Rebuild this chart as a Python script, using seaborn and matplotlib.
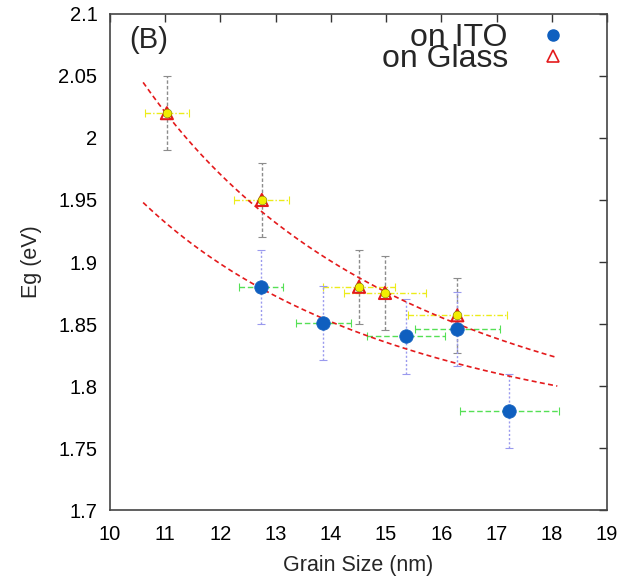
import numpy as np
import pandas as pd
import matplotlib
matplotlib.use("Agg")
import matplotlib.pyplot as plt
import seaborn as sns
from matplotlib.lines import Line2D

sns.set_theme(style="white")
plt.rcParams["font.family"] = ["Liberation Sans", "DejaVu Sans"]

# Films deposited on ITO
ito_size = [12.74, 13.86, 15.36, 16.29, 17.23]
ito_size_err = [0.40, 0.50, 0.70, 0.77, 0.90]
ito_eg = [1.880, 1.851, 1.840, 1.846, 1.780]
ito_eg_err = [0.030, 0.030, 0.030, 0.030, 0.030]

# Films deposited on glass
glass_size = [11.03, 12.75, 14.51, 14.98, 16.29]
glass_size_err = [0.40, 0.50, 0.65, 0.75, 0.90]
glass_eg = [2.020, 1.950, 1.880, 1.875, 1.857]
glass_eg_err = [0.030, 0.030, 0.030, 0.030, 0.030]

# Fitted confinement curves Eg = Eg0 + A / d^2
glass_fit_eg0, glass_fit_a = 1.707, 37.96
ito_fit_eg0, ito_fit_a = 1.7227, 25.31
fit_range = (10.6, 18.1)

xticks = list(range(10, 20))
yticks = [1.7, 1.75, 1.8, 1.85, 1.9, 1.95, 2.0, 2.05, 2.1]
ytick_labels = ["1.7", "1.75", "1.8", "1.85", "1.9", "1.95", "2", "2.05", "2.1"]

fig = plt.figure(figsize=(6.38, 5.83), dpi=100)
ax = fig.add_axes([0.1724, 0.1252, 0.779, 0.8508])

d = np.linspace(fit_range[0], fit_range[1], 200)
fits = pd.DataFrame({
    "d": np.concatenate([d, d]),
    "Eg": np.concatenate([glass_fit_eg0 + glass_fit_a / d**2,
                          ito_fit_eg0 + ito_fit_a / d**2]),
    "set": ["glass"] * len(d) + ["ito"] * len(d),
})
sns.lineplot(data=fits, x="d", y="Eg", units="set", estimator=None,
             color="#e41a1c", lw=1.2, ax=ax, zorder=3, legend=False)
for line in ax.get_lines():
    line.set_dashes([3, 2])

# error bars
eb = ax.errorbar(glass_size, glass_eg, yerr=glass_eg_err, fmt="none",
                 ecolor="#8c8c8c", elinewidth=1.0, capsize=3, capthick=0.8, zorder=2)
eb[2][0].set_linestyle((0, (2.5, 1.5)))
eb = ax.errorbar(glass_size, glass_eg, xerr=glass_size_err, fmt="none",
                 ecolor="#ecec1a", elinewidth=1.0, capsize=3, capthick=0.8, zorder=2)
eb[2][0].set_linestyle((0, (4, 1.5, 1, 1.5)))
eb = ax.errorbar(ito_size, ito_eg, yerr=ito_eg_err, fmt="none",
                 ecolor="#9a9aee", elinewidth=1.0, capsize=3, capthick=0.8, zorder=2)
eb[2][0].set_linestyle((0, (1.5, 1.5)))
eb = ax.errorbar(ito_size, ito_eg, xerr=ito_size_err, fmt="none",
                 ecolor="#55e055", elinewidth=1.0, capsize=3, capthick=0.8, zorder=2)
eb[2][0].set_linestyle((0, (4, 2)))

# points
sns.scatterplot(x=ito_size, y=ito_eg, ax=ax, marker="o", s=95,
                color="#0f5fbf", edgecolor="#0f5fbf", linewidth=0.5, zorder=4)
sns.scatterplot(x=glass_size, y=glass_eg, ax=ax, marker="^", s=75,
                facecolor="none", edgecolor="#e41a1c", linewidth=1.5, zorder=4)
sns.scatterplot(x=glass_size, y=glass_eg, ax=ax, marker="o", s=40,
                color="#f2ee00", edgecolor="#777700", linewidth=0.4, zorder=5)

ax.set_xlim(10, 19)
ax.set_ylim(1.7, 2.1)
ax.set_xticks(xticks)
ax.set_xticklabels([str(t) for t in xticks])
ax.set_yticks(yticks)
ax.set_yticklabels(ytick_labels)
ax.tick_params(direction="in", length=6, width=1, colors="#333333",
               labelcolor="black", labelsize=14.5, top=True, right=True)
ax.tick_params(axis="x", pad=11)
ax.tick_params(axis="y", pad=9)
for sp in ax.spines.values():
    sp.set_color("#444444")
    sp.set_linewidth(1.2)
ax.set_xlabel("Grain Size (nm)", fontsize=15.5, labelpad=8)
ax.set_ylabel("Eg (eV)", fontsize=15.5, labelpad=12)

ax.text(0.038, 0.975, "(B)", transform=ax.transAxes, fontsize=21,
        va="top", ha="left")

handles = [
    Line2D([], [], ls="none", marker="o", ms=8, color="#0f5fbf"),
    Line2D([], [], ls="none", marker="^", ms=8, mfc="none", mec="#e41a1c", mew=1.2),
]
ax.legend(handles, ["on ITO", "on Glass"], loc="upper right", frameon=False,
          markerfirst=False, fontsize=23, labelspacing=-0.28, handletextpad=0.5,
          handlelength=1.8, borderaxespad=0.0, bbox_to_anchor=(0.974, 1.008))

fig.savefig("out.png", dpi=100)
